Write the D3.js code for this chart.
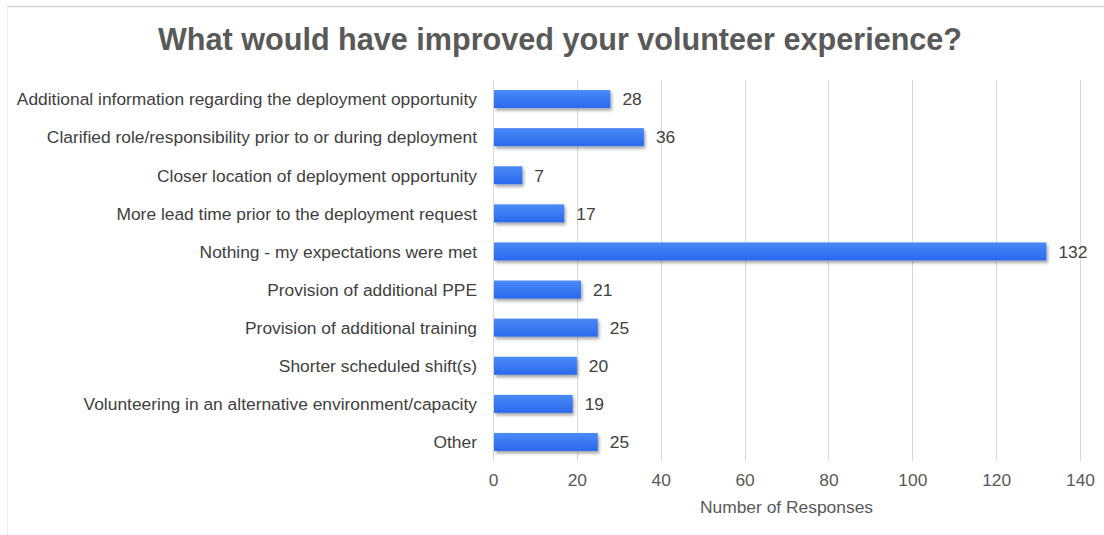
<!DOCTYPE html>
<html>
<head>
<meta charset="utf-8">
<script src="https://cdn.jsdelivr.net/npm/d3@7"></script>
<style>
  html, body { margin: 0; padding: 0; background: #fff; }
  svg { display: block; font-family: "Liberation Sans", Arial, sans-serif; }
</style>
</head>
<body>
<svg id="chart" width="1104" height="535"></svg>
<script>
// Survey responses: what would have improved the volunteer experience
const categories = [
  "Additional information regarding the deployment opportunity",
  "Clarified role/responsibility prior to or during deployment",
  "Closer location of deployment opportunity",
  "More lead time prior to the deployment request",
  "Nothing - my expectations were met",
  "Provision of additional PPE",
  "Provision of additional training",
  "Shorter scheduled shift(s)",
  "Volunteering in an alternative environment/capacity",
  "Other"
];
const responses = [28, 36, 7, 17, 132, 21, 25, 20, 19, 25];
const xTicks = [0, 20, 40, 60, 80, 100, 120, 140];

const svg = d3.select("#chart");
const W = 1104, H = 535;
const plot = { left: 493, right: 1080, top: 80, bottom: 461 };

// Frame
svg.append("line").attr("x1", 7).attr("x2", W).attr("y1", 6.5).attr("y2", 6.5)
  .attr("stroke", "#d6d6d6").attr("stroke-width", 1.5);
svg.append("line").attr("x1", 7.5).attr("x2", 7.5).attr("y1", 6).attr("y2", H)
  .attr("stroke", "#ececec").attr("stroke-width", 1);

// Title
svg.append("text")
  .attr("x", 560).attr("y", 50)
  .attr("text-anchor", "middle")
  .attr("font-size", 30.6).attr("font-weight", "bold")
  .attr("fill", "#595959")
  .text("What would have improved your volunteer experience?");

const x = d3.scaleLinear().domain([0, 140]).range([plot.left, plot.right]);
const y = d3.scaleBand().domain(categories).range([plot.top, plot.bottom])
  .paddingInner(0.527).paddingOuter(0.2635);

// Gradient and shadow for bars
const defs = svg.append("defs");
const grad = defs.append("linearGradient").attr("id", "barGrad")
  .attr("x1", 0).attr("y1", 0).attr("x2", 0).attr("y2", 1);
grad.append("stop").attr("offset", "0%").attr("stop-color", "#4a8af8");
grad.append("stop").attr("offset", "100%").attr("stop-color", "#2a69ec");
const shadow = defs.append("filter").attr("id", "barShadow")
  .attr("x", "-5%").attr("y", "-30%").attr("width", "115%").attr("height", "180%");
shadow.append("feDropShadow").attr("dx", 1.5).attr("dy", 2.5).attr("stdDeviation", 1.6)
  .attr("flood-color", "#000").attr("flood-opacity", 0.35);

// Gridlines
svg.append("g").selectAll("line").data(xTicks).join("line")
  .attr("x1", d => Math.round(x(d)) + 0.5).attr("x2", d => Math.round(x(d)) + 0.5)
  .attr("y1", plot.top).attr("y2", plot.bottom)
  .attr("stroke", "#d9d9d9").attr("stroke-width", 1);

// Bars
svg.append("g").selectAll("rect").data(categories).join("rect")
  .attr("x", x(0) + 1)
  .attr("y", d => y(d))
  .attr("width", (d, i) => x(responses[i]) - x(0) - 1)
  .attr("height", y.bandwidth())
  .attr("fill", "url(#barGrad)")
  .attr("filter", "url(#barShadow)");

// Value labels
svg.append("g").selectAll("text").data(categories).join("text")
  .attr("x", (d, i) => x(responses[i]) + 12)
  .attr("y", d => y(d) + y.bandwidth() / 2)
  .attr("dy", "0.36em")
  .attr("font-size", 17.4).attr("fill", "#404040")
  .text((d, i) => responses[i]);

// Category axis
const yAxis = svg.append("g").attr("transform", `translate(${plot.left - 16},0)`)
  .call(d3.axisLeft(y).tickSize(0).tickPadding(0));
yAxis.select(".domain").remove();
yAxis.selectAll("text").attr("font-size", 17.4).attr("fill", "#404040")
  .attr("font-family", "Liberation Sans, Arial, sans-serif").attr("dy", "0.36em");

// Value axis
const xAxis = svg.append("g").attr("transform", `translate(0,${plot.bottom})`)
  .call(d3.axisBottom(x).tickValues(xTicks).tickSize(0).tickPadding(13));
xAxis.select(".domain").remove();
xAxis.selectAll("text").attr("font-size", 17.4).attr("fill", "#595959")
  .attr("font-family", "Liberation Sans, Arial, sans-serif");

svg.append("text")
  .attr("x", (plot.left + plot.right) / 2).attr("y", 513)
  .attr("text-anchor", "middle")
  .attr("font-size", 17.4).attr("fill", "#595959")
  .text("Number of Responses");
</script>
</body>
</html>
